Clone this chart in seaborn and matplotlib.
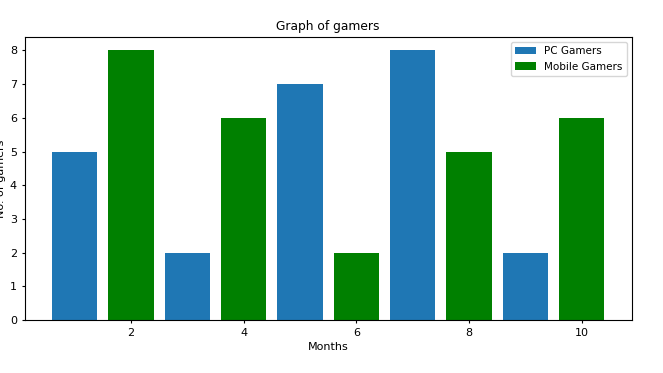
import matplotlib

matplotlib.use("Agg")

import matplotlib.pyplot as plt  # noqa: E402
import pandas as pd  # noqa: E402
import seaborn as sns  # noqa: E402

pc_months = [1, 3, 5, 7, 9]
pc_gamers = [5, 2, 7, 8, 2]
mobile_months = [2, 4, 6, 8, 10]
mobile_gamers = [8, 6, 2, 5, 6]

df = pd.concat(
    [
        pd.DataFrame({"month": pc_months, "gamers": pc_gamers, "kind": "PC Gamers"}),
        pd.DataFrame({"month": mobile_months, "gamers": mobile_gamers, "kind": "Mobile Gamers"}),
    ],
    ignore_index=True,
)

plt.rcParams["font.size"] = 7.5
plt.rcParams["xtick.major.size"] = 2.5
plt.rcParams["ytick.major.size"] = 2.5

fig = plt.figure(figsize=(6.63, 3.73), dpi=100)
ax = fig.add_axes([0.037, 0.142, 0.916, 0.759])
sns.barplot(
    data=df, x="month", y="gamers", hue="kind", native_scale=True, dodge=False,
    palette={"PC Gamers": "#1f77b4", "Mobile Gamers": "green"},
    width=0.8, saturation=1, errorbar=None, ax=ax,
)
ax.set_xticks([2, 4, 6, 8, 10])
ax.set_xlim(0.11, 10.89)
ax.set_ylim(0, 8.4)
ax.set_title("Graph of gamers", fontsize=8.8, pad=5)
ax.set_xlabel("Months", fontsize=8, labelpad=3)
ax.set_ylabel("No. of gamers", fontsize=8, labelpad=3)
ax.tick_params(labelsize=8, pad=3)
ax.legend(loc="upper right", fontsize=7.5)
fig.savefig("out.png", dpi=100)
